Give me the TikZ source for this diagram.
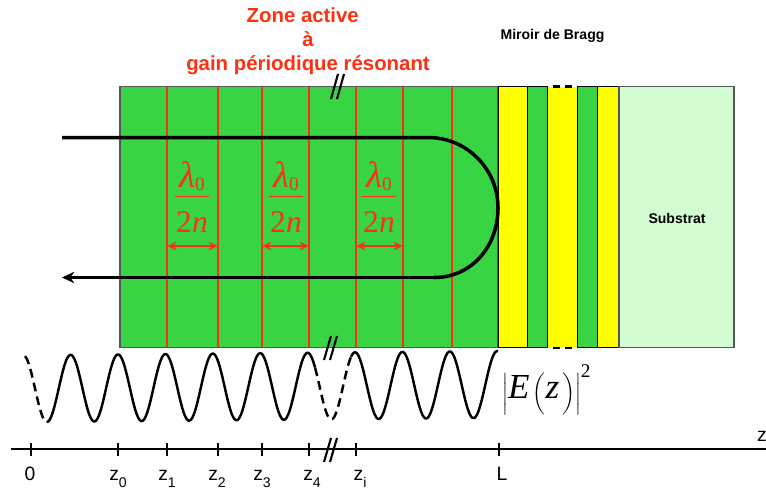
\documentclass[tikz,border=0pt]{standalone}
\usepackage{fontspec}
\setmainfont{Liberation Sans}
\newfontfamily\eqfont{Liberation Serif}
\usetikzlibrary{arrows.meta}
\definecolor{gain}{HTML}{38D444}
\definecolor{bragg}{HTML}{FFFF00}
\definecolor{subs}{HTML}{D2FDD2}
\definecolor{rouge}{HTML}{FF3010}
\definecolor{bord}{HTML}{555555}
\newcommand{\demionde}{$\displaystyle{\hbox to 19.5pt{\hfil\rule[-1pt]{0pt}{1pt}\fontsize{21}{21}\eqfont\itshape λ\raisebox{-1.5pt}{\fontsize{11}{11}\eqfont\upshape 0}\hfil} \above 1pt \hbox to 19.5pt{\hfil\rule{0pt}{17pt}\fontsize{18}{18}\eqfont 2\itshape n\hfil}}$}
\newcommand{\zlab}[2]{#1\raisebox{-4pt}{\fontsize{8}{8}\selectfont #2}}

\begin{document}
\begin{tikzpicture}[
  x=0.02cm, y=-0.02cm,
  declare function={wavey(\t)=388.5-0.009*(\t-47)-33.5*cos((\t-118)/47.4*360);},
  couche/.style={draw=black, line width=0.5pt},
  plan/.style={rouge, line width=0.8pt},
  faisceau/.style={black, line width=2pt},
  cote/.style={rouge, line width=1.3pt, {Stealth[length=5pt,width=5pt]}-{Stealth[length=5pt,width=5pt]}},
  wave/.style={black, line width=1.4pt, line join=round},
  wavedash/.style={wave, dash pattern=on 5pt off 3pt},
  axe/.style={black, line width=1.1pt},
  tick/.style={black, line width=0.8pt},
  coupure/.style={black, line width=1.2pt},
  soustitre/.style={font=\fontsize{8}{10}\selectfont\bfseries},
  zlabel/.style={font=\fontsize{11}{13}\selectfont, inner sep=0pt, anchor=base},
]
\useasboundingbox (0,0) rectangle (766,488);

% ---------- active zone ----------
\draw[draw=bord, line width=0.7pt, fill=gain] (120,86.5) rectangle (498,347.5);
\foreach \x in {167,218,262,309,356,403,452}
  \draw[plan] (\x,87) -- (\x,347);

% ---------- Bragg mirror + substrate ----------
\fill[bragg] (547,86.5) rectangle (577,347.5);
\foreach \xa/\xb/\col in {498/527/bragg, 527/547/gain, 577/597/gain, 597/619/bragg}
  \draw[couche, fill=\col] (\xa,86.5) rectangle (\xb,347.5);
\draw[draw=bord, line width=0.7pt, fill=subs] (619,86.5) rectangle (734,347.5);
\foreach \y in {86.5,348}
  \draw[black, line width=1.2pt, dash pattern=on 4pt off 3pt] (553,\y) -- (573,\y);

% ---------- titles ----------
\node[rouge, font=\fontsize{11.6}{13.7}\selectfont\bfseries, align=center] (titre) at (308,41)
  {Zone active\hspace*{6pt}\\à\hspace*{3pt}\\gain périodique résonant};
\node[soustitre] (miroir) at (552.5,36) {Miroir de Bragg};
\node[soustitre] (substrat) at (677,218) {Substrat};

% ---------- beam ----------
\coordinate (entree) at (62,137.5);
\coordinate (haut) at (428,137.5);
\coordinate (fond) at (498,208);
\coordinate (bas) at (434,277.5);
\coordinate (sortie) at (62,277.5);
\draw[faisceau] (entree) -- (haut) .. controls (467,137.5) and (498,169) .. (fond)
  .. controls (498,246) and (472,277.5) .. (bas);
\draw[faisceau, -{Stealth[length=7pt,width=6.5pt]}] (bas) -- (sortie);

% ---------- lambda/2n ----------
\foreach \n/\xa/\xb in {1/167.5/217.5, 2/262.5/308.5, 3/356.5/402.5}
{
  \coordinate (cg\n) at (\xa,246);
  \coordinate (cd\n) at (\xb,246);
  \draw[cote] (cg\n) -- (cd\n);
}
\node[rouge, inner sep=0pt, anchor=base] (frac1) at (192,201) {\demionde};
\node[rouge, inner sep=0pt, anchor=base] (frac2) at (286,201) {\demionde};
\node[rouge, inner sep=0pt, anchor=base] (frac3) at (379,201) {\demionde};

% ---------- standing wave ----------
\draw[wavedash] plot[domain=25:47, samples=20, smooth, variable=\t] (\t,{wavey(\t)});
\draw[wave] plot[domain=47:315, samples=180, smooth, variable=\t] (\t,{wavey(\t)});
\draw[wavedash] plot[domain=315:351, samples=30, smooth, variable=\t] (\t,{wavey(\t)});
\draw[wave] plot[domain=351:498, samples=100, smooth, variable=\t] (\t,{wavey(\t)});
\node[inner sep=0pt, anchor=west] (champ) at (502,390)
  {$\bigg|\hbox{\fontsize{20}{20}\eqfont\itshape E}\,\bigg(\hbox{\fontsize{20}{20}\eqfont\itshape z}\,\bigg)\bigg|^{\hbox{\fontsize{11}{11}\eqfont 2}}$};

% ---------- z axis ----------
\coordinate (axeg) at (11,449);
\coordinate (axed) at (766,449);
\draw[axe] (axeg) -- (axed);
\foreach \n/\x/\lx/\t in {a/31/30/0, b/118/118/{\zlab{z}{0}}, c/167/167/{\zlab{z}{1}}, d/218/217/{\zlab{z}{2}},
  e/262/262/{\zlab{z}{3}}, f/309/312/{\zlab{z}{4}}, g/356/360/{\zlab{z}{i}}, h/499/502/L}
{
  \draw[tick] (\x,443) -- (\x,455.5);
  \node[zlabel] (lab\n) at (\lx,480) {\t};
}
\node[zlabel] (labz) at (762,441) {z};

% ---------- break marks ----------
\foreach \xm/\y/\dy in {331/99/25, 324/360/24, 324/462/24}
{
  \draw[coupure] (\xm,\y) -- (\xm+7,\y-\dy);
  \draw[coupure] (\xm+6,\y) -- (\xm+13,\y-\dy);
}

\end{tikzpicture}
\end{document}
